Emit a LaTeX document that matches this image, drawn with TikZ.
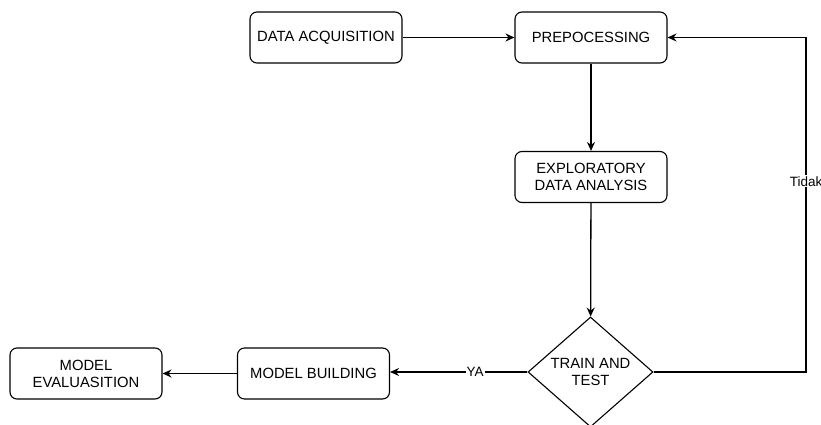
\documentclass[tikz,border=0pt]{standalone}
\usepackage{fontspec}
\setmainfont{Liberation Sans}
\usetikzlibrary{shapes.geometric,arrows.meta}
\begin{document}
\begin{tikzpicture}[x=1pt,y=-1pt,
  box/.style={draw,line width=1.1pt,rounded corners=7pt,minimum width=152pt,minimum height=51pt,inner sep=2pt,align=center,font=\fontsize{14.8}{17}\selectfont},
  dec/.style={draw,line width=1.1pt,diamond,minimum width=125pt,minimum height=110pt,inner sep=0pt,align=center,font=\fontsize{14.8}{17}\selectfont},
  conn/.style={line width=1.3pt,-{Stealth[length=9pt,width=8pt,inset=3pt]}},
  lbl/.style={fill=white,inner sep=1pt,font=\fontsize{13.5}{15}\selectfont}]
\useasboundingbox (0,0) rectangle (821,425);
\node[box] (da) at (326,37.5) {DATA ACQUISITION};
\node[box] (pre) at (591,37.5) {PREPOCESSING};
\node[box] (eda) at (591,177) {EXPLORATORY\\DATA ANALYSIS};
\node[dec] (tt) at (590.5,372) {TRAIN AND\\TEST};
\node[box] (mb) at (313.5,373.5) {MODEL BUILDING};
\node[box] (me) at (86,373.5) {MODEL\\EVALUASITION};
\coordinate (c1) at (806,372);
\coordinate (c2) at (806,37.5);
\draw[conn] (da) -- (pre);
\draw[conn] (pre) -- (eda);
\draw[conn] (eda) -- (tt);
\draw[conn] (tt.west) -- node[lbl,pos=0.38]{YA} (mb.east |- tt.west);
\draw[conn] (mb) -- (me);
\draw[conn] (tt.east) -- (c1) -- node[lbl,pos=0.57]{Tidak} (c2) -- (pre.east);
\end{tikzpicture}
\end{document}
